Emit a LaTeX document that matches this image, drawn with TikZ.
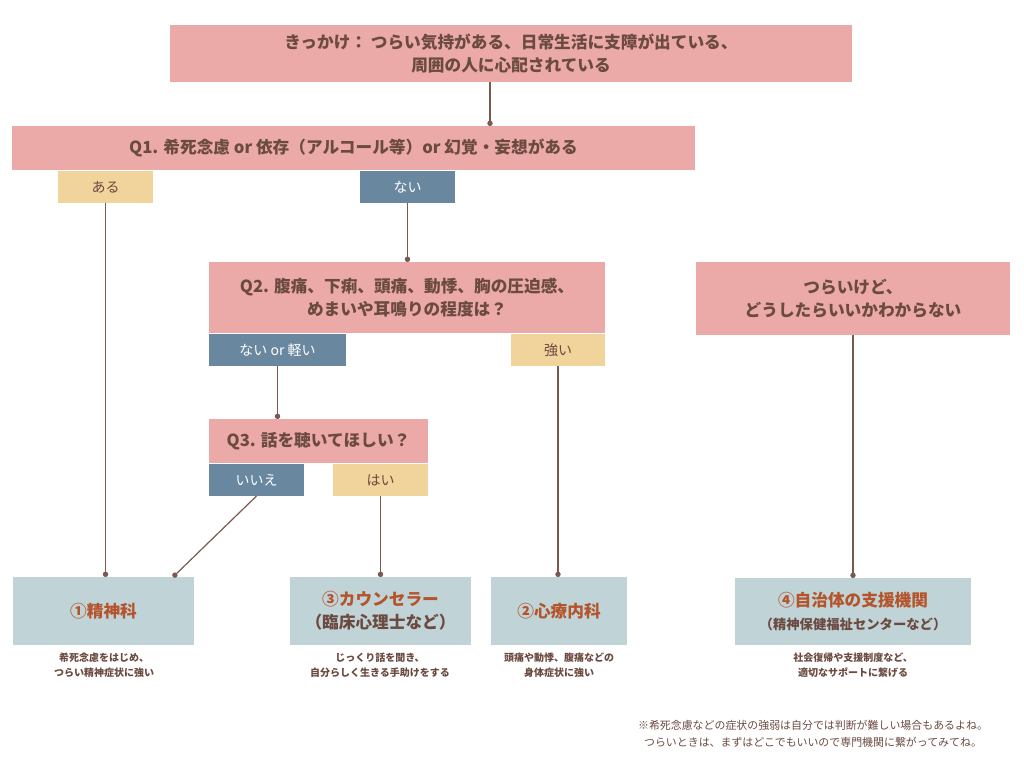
\documentclass[tikz,border=0pt]{standalone}
\usepackage{fontspec}
\setmainfont{Noto Sans CJK JP}
\usetikzlibrary{positioning, calc, arrows.meta}
\definecolor{qpink}{HTML}{EBAAA8}
\definecolor{ayel}{HTML}{F1D49B}
\definecolor{nblue}{HTML}{6A87A0}
\definecolor{dblue}{HTML}{C0D4D8}
\definecolor{txtbrown}{HTML}{6B4A40}
\definecolor{ttlorange}{HTML}{B5532A}
\definecolor{linebrown}{HTML}{7A5A50}
\tikzset{
  box/.style={inner sep=0pt, outer sep=0pt, align=center, font=\bfseries},
  q/.style={box, fill=qpink, text=txtbrown, font=\bfseries\fontsize{12.5}{17}\selectfont},
  yes/.style={box, fill=ayel, text=txtbrown, font=\fontsize{10.5}{12}\selectfont},
  no/.style={box, fill=nblue, text=white, font=\fontsize{10.5}{12}\selectfont},
  dest/.style={box, fill=dblue, text=ttlorange, font=\bfseries\fontsize{12.5}{17}\selectfont},
  caption/.style={align=center, text=txtbrown, font=\bfseries\fontsize{7.5}{11}\selectfont},
  link/.style={draw=linebrown, line width=0.9pt, -{Circle[length=4pt]}}
}
\begin{document}
\begin{tikzpicture}[x=0.75pt, y=-0.75pt]
  \useasboundingbox (0,0) rectangle (1024,782);

  % questions
  \node[q, minimum width=682*0.75pt, minimum height=57*0.75pt] (start) at (511,53.5) {きっかけ：\ つらい気持がある、日常生活に支障が出ている、\\周囲の人に心配されている};
  \node[q, minimum width=683*0.75pt, minimum height=44*0.75pt] (q1) at (353.5,148) {Q1. 希死念慮 or 依存（アルコール等）or 幻覚・妄想がある};
  \node[yes, minimum width=95*0.75pt, minimum height=32*0.75pt] (q1yes) at (105.5,187) {ある};
  \node[no, minimum width=95*0.75pt, minimum height=32*0.75pt] (q1no) at (407.5,187) {ない};

  \node[q, minimum width=396*0.75pt, minimum height=71*0.75pt] (q2) at (407,297.5) {Q2. 腹痛、下痢、頭痛、動悸、胸の圧迫感、\\めまいや耳鳴りの程度は？};
  \node[no, minimum width=137*0.75pt, minimum height=32*0.75pt] (q2no) at (277.5,350) {ない or 軽い};
  \node[yes, minimum width=94*0.75pt, minimum height=32*0.75pt] (q2yes) at (558,350) {強い};

  \node[q, minimum width=219*0.75pt, minimum height=44*0.75pt] (q3) at (318.5,441) {Q3. 話を聴いてほしい？};
  \node[no, minimum width=95*0.75pt, minimum height=32*0.75pt] (q3no) at (256.5,480) {いいえ};
  \node[yes, minimum width=95*0.75pt, minimum height=32*0.75pt] (q3yes) at (380.5,480) {はい};

  \node[q, minimum width=314*0.75pt, minimum height=73*0.75pt] (lost) at (853,298.5) {つらいけど、\\どうしたらいいかわからない};

  % destinations
  \node[dest, minimum width=181*0.75pt, minimum height=68*0.75pt] (psy) at (103.5,611) {①精神科};
  \node[dest, minimum width=181*0.75pt, minimum height=68*0.75pt] (coun) at (380.5,611) {③カウンセラー\\{\color{txtbrown}（臨床心理士など）}};
  \node[dest, minimum width=136*0.75pt, minimum height=68*0.75pt] (psm) at (559,611) {②心療内科};
  \node[dest, minimum width=236*0.75pt, minimum height=67*0.75pt] (gov) at (853,611.5) {④自治体の支援機関\\{\color{txtbrown}\fontsize{10}{14}\selectfont（精神保健福祉センターなど）}};

  % captions
  \node[caption] (psycap) at (104,665) {希死念慮をはじめ、\\つらい精神症状に強い};
  \node[caption] (councap) at (380,665) {じっくり話を聞き、\\自分らしく生きる手助けをする};
  \node[caption] (psmcap) at (559,665) {頭痛や動悸、腹痛などの\\身体症状に強い};
  \node[caption] (govcap) at (853,665) {社会復帰や支援制度など、\\適切なサポートに繋げる};
  \node[caption, font=\fontsize{8.2}{12.5}\selectfont] (note) at (813,734) {※希死念慮などの症状の強弱は自分では判断が難しい場合もあるよね。\\つらいときは、まずはどこでもいいので専門機関に繋がってみてね。};

  % connectors
  \coordinate (startout) at ($(start.south)+(-21,0)$);
  \coordinate (psyin) at ($(psy.north east)+(-21,0)$);
  \draw[link] (startout) -- (q1.north -| startout);
  \draw[link] (q1yes.south) -- (psy.north -| q1yes.south);
  \draw[link] (q1no.south) -- (q2.north -| q1no.south);
  \draw[link] (q2no.south) -- (q3.north -| q2no.south);
  \draw[link] (q3no.south) -- (psyin);
  \draw[link] (q3yes.south) -- (coun.north -| q3yes.south);
  \draw[link] (q2yes.south) -- (psm.north -| q2yes.south);
  \draw[link] (lost.south) -- (gov.north);
\end{tikzpicture}
\end{document}
